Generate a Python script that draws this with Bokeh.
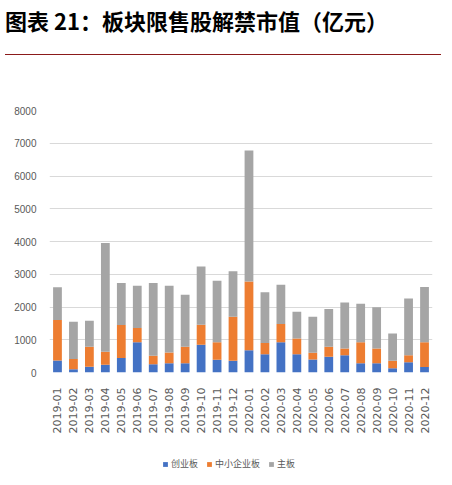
from math import pi

from bokeh.embed import file_html
from bokeh.layouts import column
from bokeh.models import ColumnDataSource, Div, FactorRange, FixedTicker, Legend, LegendItem, Range1d
from bokeh.plotting import figure
from bokeh.resources import INLINE

months = [
    "2019-01", "2019-02", "2019-03", "2019-04", "2019-05", "2019-06",
    "2019-07", "2019-08", "2019-09", "2019-10", "2019-11", "2019-12",
    "2020-01", "2020-02", "2020-03", "2020-04", "2020-05", "2020-06",
    "2020-07", "2020-08", "2020-09", "2020-10", "2020-11", "2020-12",
]
# 创业板
gem = [370, 100, 175, 235, 440, 920, 250, 285, 285, 850, 390, 360,
       680, 560, 920, 560, 400, 480, 530, 285, 285, 130, 315, 165]
# 中小企业板
sme = [1230, 310, 615, 395, 1010, 440, 260, 325, 500, 610, 530, 1340,
       2100, 340, 560, 480, 200, 305, 205, 635, 450, 225, 215, 755]
# 主板
main = [1000, 1140, 790, 3325, 1280, 1290, 2220, 2040, 1590, 1780, 1880, 1390,
        4000, 1550, 1200, 815, 1100, 1155, 1405, 1180, 1255, 835, 1730, 1690]

series = ["gem", "sme", "main"]
labels = ["创业板", "中小企业板", "主板"]
colors = ["#4472C4", "#ED7D31", "#A5A5A5"]
y_ticks = [0, 1000, 2000, 3000, 4000, 5000, 6000, 7000, 8000]

source = ColumnDataSource(data=dict(month=months, gem=gem, sme=sme, main=main))

title = Div(
    text=(
        '<div style="font-family:\'Noto Sans CJK SC\';font-weight:bold;'
        'font-size:22px;line-height:26px;color:#000;padding-top:2px;'
        'height:50px;box-sizing:border-box;border-bottom:1.5px solid #8B1A1A;'
        'width:436px;">图表 21：板块限售股解禁市值（亿元）</div>'
    ),
    width=436,
    height=50,
)

p = figure(
    width=436,
    height=392,
    x_range=FactorRange(factors=months, range_padding=0),
    y_range=Range1d(0, 8000),
    output_backend="svg",
    toolbar_location=None,
    tools="",
    min_border_top=50,
    min_border_left=49,
    min_border_right=4,
    min_border_bottom=80,
    outline_line_color=None,
)

p.vbar_stack(series, x="month", width=0.55, source=source,
             color=colors, line_color=None)

p.xgrid.grid_line_color = None
p.ygrid.grid_line_color = "#D9D9D9"
p.yaxis.ticker = FixedTicker(ticks=y_ticks)

for ax in (p.xaxis[0], p.yaxis[0]):
    ax.axis_line_color = None
    ax.major_tick_line_color = None
    ax.minor_tick_line_color = None
    ax.major_label_text_color = "#595959"
    ax.major_label_text_font_size = "10px"

p.yaxis.major_label_standoff = 7
p.yaxis.major_label_text_font = "Liberation Sans"
p.xaxis.major_label_text_font = "DejaVu Sans"
p.xaxis.major_label_text_font_size = "11px"
p.xaxis.major_label_orientation = pi / 2
p.xaxis.major_label_standoff = 9

# legend strip under the chart; zero-width bars only feed the legend swatches
leg = figure(
    width=436,
    height=25,
    x_range=FactorRange(factors=months),
    y_range=Range1d(-2, -1),
    x_axis_type=None,
    y_axis_type=None,
    output_backend="svg",
    toolbar_location=None,
    tools="",
    min_border=0,
    outline_line_color=None,
)
leg.xgrid.visible = False
leg.ygrid.visible = False
rs = leg.vbar_stack(series, x="month", width=0, source=source,
                    color=colors, line_color=None)

legend = Legend(
    items=[LegendItem(label=lab, renderers=[r]) for lab, r in zip(labels, rs)],
    location=(113, 7),
    orientation="horizontal",
    padding=0,
    margin=0,
    spacing=8,
    label_standoff=3,
    glyph_width=6,
    glyph_height=6,
    label_height=12,
    label_text_font="Noto Sans CJK SC",
    label_text_font_size="9px",
    label_text_color="#595959",
    border_line_color=None,
    background_fill_alpha=0,
)
leg.add_layout(legend)

layout = column(title, p, leg)
open("out.html", "w").write(file_html(layout, INLINE))
